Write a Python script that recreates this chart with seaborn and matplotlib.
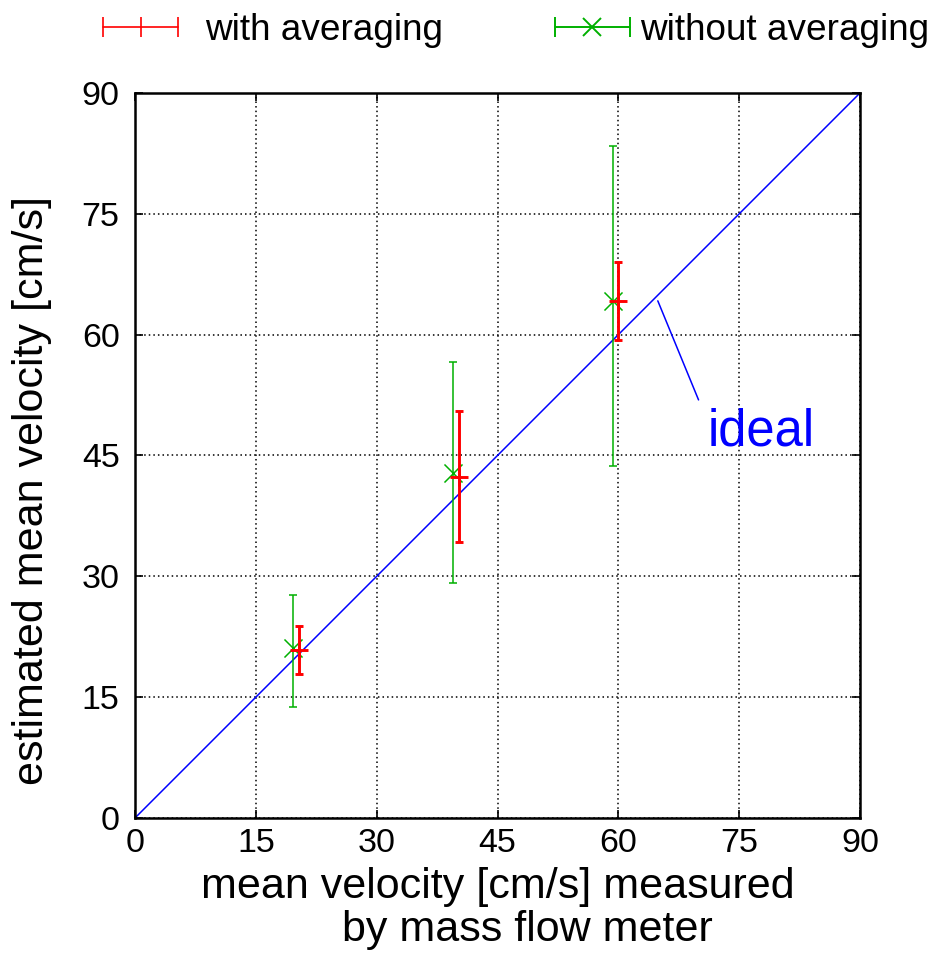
import numpy as np
import pandas as pd
import seaborn as sns
import matplotlib
matplotlib.use("Agg")
import matplotlib.pyplot as plt
from matplotlib.lines import Line2D
from matplotlib.legend_handler import HandlerBase

# measured mean velocity [cm/s] and estimates
avg_x = [20.3, 40.2, 60.0]
avg_y = [20.85, 42.33, 64.18]
avg_lo = [17.84, 34.22, 59.37]
avg_hi = [23.87, 50.48, 68.98]

raw_x = [19.57, 39.43, 59.3]
raw_y = [21.06, 42.86, 64.2]
raw_lo = [13.82, 29.2, 43.7]
raw_hi = [27.68, 56.6, 83.4]

ideal_x = [0, 90]
ideal_y = [0, 90]
ideal_label_xy = (71.1, 46.3)
ideal_leader_x = [64.9, 69.96]
ideal_leader_y = [64.2, 51.9]

ticks = [0, 15, 30, 45, 60, 75, 90]

RED = "#ff0000"
GREEN = "#00b000"
BLUE = "#0000ff"

sns.set_theme(style="white")
plt.rcParams["font.family"] = ["Liberation Sans", "DejaVu Sans"]
plt.rcParams["text.color"] = "black"
plt.rcParams["axes.labelcolor"] = "black"

fig = plt.figure(figsize=(9.37, 9.56), dpi=100)
ax = fig.add_axes([0.1441, 0.1444, 0.7737, 0.7583])

# ideal line y = x
sns.lineplot(x=ideal_x, y=ideal_y, ax=ax, color=BLUE, lw=1.1, zorder=2)
ax.plot(ideal_leader_x, ideal_leader_y, color=BLUE, lw=1.1, zorder=2)
ax.text(*ideal_label_xy, "ideal", color=BLUE, fontsize=36.5,
        ha="left", va="baseline", zorder=5)

def draw_series(x, y, lo, hi, color, marker, ms, lw, z):
    x = np.asarray(x); y = np.asarray(y)
    err = np.vstack([y - np.asarray(lo), np.asarray(hi) - y])
    ax.errorbar(x, y, yerr=err, fmt="none", ecolor=color, elinewidth=lw,
                capsize=3, capthick=lw, zorder=z)
    df = pd.DataFrame({"x": x, "y": y})
    sns.scatterplot(data=df, x="x", y="y", ax=ax, marker=marker, s=ms ** 2,
                    color=color, linewidth=lw, zorder=z + 0.1)

draw_series(raw_x, raw_y, raw_lo, raw_hi, GREEN, "x", 13, 1.1, 3)
draw_series(avg_x, avg_y, avg_lo, avg_hi, RED, "+", 13, 2.1, 4)

ax.set_xlim(0, 90)
ax.set_ylim(0, 90)
ax.set_xticks(ticks)
ax.set_yticks(ticks)
ax.tick_params(axis="both", labelsize=24.5, direction="in", length=6, width=1.2,
               top=True, right=True, bottom=True, left=True, colors="black")
ax.tick_params(axis="x", pad=7)
ax.tick_params(axis="y", pad=11)
ax.grid(True, color="black", linestyle=(0, (1, 2)), lw=1.1)
for sp in ax.spines.values():
    sp.set_color("black")
    sp.set_linewidth(1.8)
ax.set_facecolor("white")

ax.set_xlabel("mean velocity [cm/s] measured\n     by mass flow meter",
              fontsize=31, linespacing=1.1, color="black")
ax.xaxis.set_label_coords(0.5, -0.068)
ax.set_ylabel("estimated mean velocity [cm/s]", fontsize=31, color="black")
ax.yaxis.set_label_coords(-0.115, 0.452)


class CappedHandler(HandlerBase):
    def create_artists(self, legend, orig_handle, xdescent, ydescent,
                       width, height, fontsize, trans):
        y = height / 2 - ydescent
        x0, x1 = -xdescent, width - xdescent
        color = orig_handle.get_color()
        lw = orig_handle.get_linewidth()
        line = Line2D([x0, x1], [y, y], color=color, lw=lw)
        caps = Line2D([x0, x1], [y, y], ls="none", marker="|", ms=14,
                      mew=lw, color=color)
        mid = Line2D([(x0 + x1) / 2], [y], ls="none",
                     marker=orig_handle.get_marker(),
                     ms=orig_handle.get_markersize(), mew=lw, color=color)
        for a in (line, caps, mid):
            a.set_transform(trans)
        return [line, caps, mid]


h_avg = Line2D([], [], color=RED, lw=1.2, marker="|", ms=14)
h_raw = Line2D([], [], color=GREEN, lw=1.4, marker="x", ms=13)

common = dict(frameon=False, fontsize=26.6, handlelength=2.03, borderpad=0,
              borderaxespad=0, loc="center left", labelcolor="black",
              handler_map={Line2D: CappedHandler()})
leg1 = fig.legend([h_avg], ["with averaging"], bbox_to_anchor=(0.110, 0.9686),
                  handletextpad=0.73, **common)
leg2 = fig.legend([h_raw], ["without averaging"], bbox_to_anchor=(0.5923, 0.9686),
                  handletextpad=0.27, **common)

fig.savefig("out.png", dpi=100, facecolor="white")
